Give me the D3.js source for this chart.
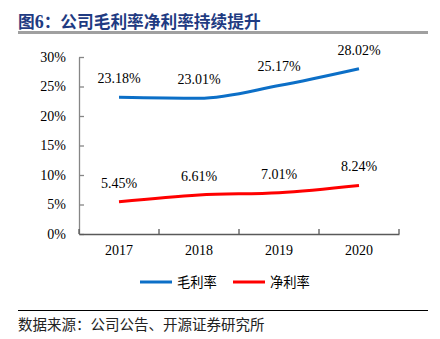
<!DOCTYPE html>
<html><head><meta charset="utf-8">
<script src="https://cdn.jsdelivr.net/npm/d3@7"></script>
<style>body{margin:0;background:#fff}svg{display:block}</style>
</head><body>
<script>
const categories = ["2017", "2018", "2019", "2020"];
const grossMargin = [23.18, 23.01, 25.17, 28.02];
const netMargin = [5.45, 6.61, 7.01, 8.24];
const yTicks = [0, 5, 10, 15, 20, 25, 30];
const seriesNames = ["毛利率", "净利率"];
const seriesColors = ["#0c6fc7", "#ff0000"];
const titleText = "图6：公司毛利率净利率持续提升";
const sourceText = "数据来源：公司公告、开源证券研究所";

const W = 440, H = 339;
const svg = d3.select("body").append("svg").attr("width", W).attr("height", H);
const serif = "'Liberation Serif','Times New Roman',serif";
const cjk = "'Noto Sans CJK SC','Noto Sans CJK JP',sans-serif";

// title
const t = svg.append("text").attr("x", 18).attr("y", 28).attr("fill", "#1f3b82")
  .attr("font-weight", "bold").attr("font-size", 16.7).attr("font-family", cjk);
t.append("tspan").text("图").attr("font-family", cjk);
t.append("tspan").text("6").attr("font-family", serif).attr("font-size", 18);
t.append("tspan").text(titleText.slice(2)).attr("font-family", cjk);
svg.append("rect").attr("x", 18).attr("y", 31).attr("width", 410).attr("height", 3).attr("fill", "#a0a0a0");

const x = d3.scaleBand().domain(categories).range([79, 399]);
const y = d3.scaleLinear().domain([0, 30]).range([234, 57]);

// y axis
const ya = svg.append("g").attr("transform", "translate(79,0)")
  .call(d3.axisLeft(y).tickValues(yTicks).tickSize(4).tickSizeOuter(0).tickFormat(d => d + "%"));
ya.select(".domain").attr("stroke", "#868686").attr("stroke-width", 1.3);
ya.selectAll(".tick line").attr("stroke", "#868686").attr("stroke-width", 1.3).attr("x2", 5).attr("x1", 0);
ya.selectAll(".tick text").attr("x", -13).attr("font-family", serif).attr("font-size", 14).attr("fill", "#000");

// x axis
const xa = svg.append("g").attr("transform", "translate(0,234)")
  .call(d3.axisBottom(x).tickSize(0).tickSizeOuter(0));
xa.select(".domain").attr("stroke", "#595959").attr("stroke-width", 1.3);
xa.selectAll(".tick text").attr("dy", 0).attr("y", 21).attr("font-family", serif).attr("font-size", 14).attr("fill", "#000");
const bounds = categories.map(c => x(c)).concat([x(categories[categories.length-1]) + x.bandwidth()]);
svg.append("g").selectAll("line").data(bounds).join("line")
  .attr("x1", d => d).attr("x2", d => d).attr("y1", 234).attr("y2", 229)
  .attr("stroke", "#595959").attr("stroke-width", 1.3);

const cx = c => x(c) + x.bandwidth() / 2;
const line = d3.line().x((d, i) => cx(categories[i])).y(d => y(d)).curve(d3.curveMonotoneX);
[grossMargin, netMargin].forEach((s, k) => {
  svg.append("path").attr("d", line(s)).attr("fill", "none")
    .attr("stroke", seriesColors[k]).attr("stroke-width", 3);
  svg.append("g").selectAll("text").data(s).join("text")
    .attr("x", (d, i) => cx(categories[i])).attr("y", d => y(d) - 14)
    .attr("text-anchor", "middle").attr("font-family", serif).attr("font-size", 14)
    .attr("fill", "#000").text(d => d.toFixed(2) + "%");
});

// legend
const legX = [140, 233];
seriesNames.forEach((n, k) => {
  svg.append("line").attr("x1", legX[k]).attr("x2", legX[k] + 32).attr("y1", 282).attr("y2", 282)
    .attr("stroke", seriesColors[k]).attr("stroke-width", 3);
  svg.append("text").attr("x", legX[k] + 37).attr("y", 287).attr("font-family", cjk)
    .attr("font-size", 13.3).attr("fill", "#000").text(n);
});

// source
svg.append("line").attr("x1", 18).attr("x2", 428).attr("y1", 310.5).attr("y2", 310.5)
  .attr("stroke", "#000").attr("stroke-width", 1);
svg.append("text").attr("x", 18).attr("y", 330).attr("font-family", cjk)
  .attr("font-size", 14.5).attr("fill", "#222").text(sourceText);
</script>
</body></html>
